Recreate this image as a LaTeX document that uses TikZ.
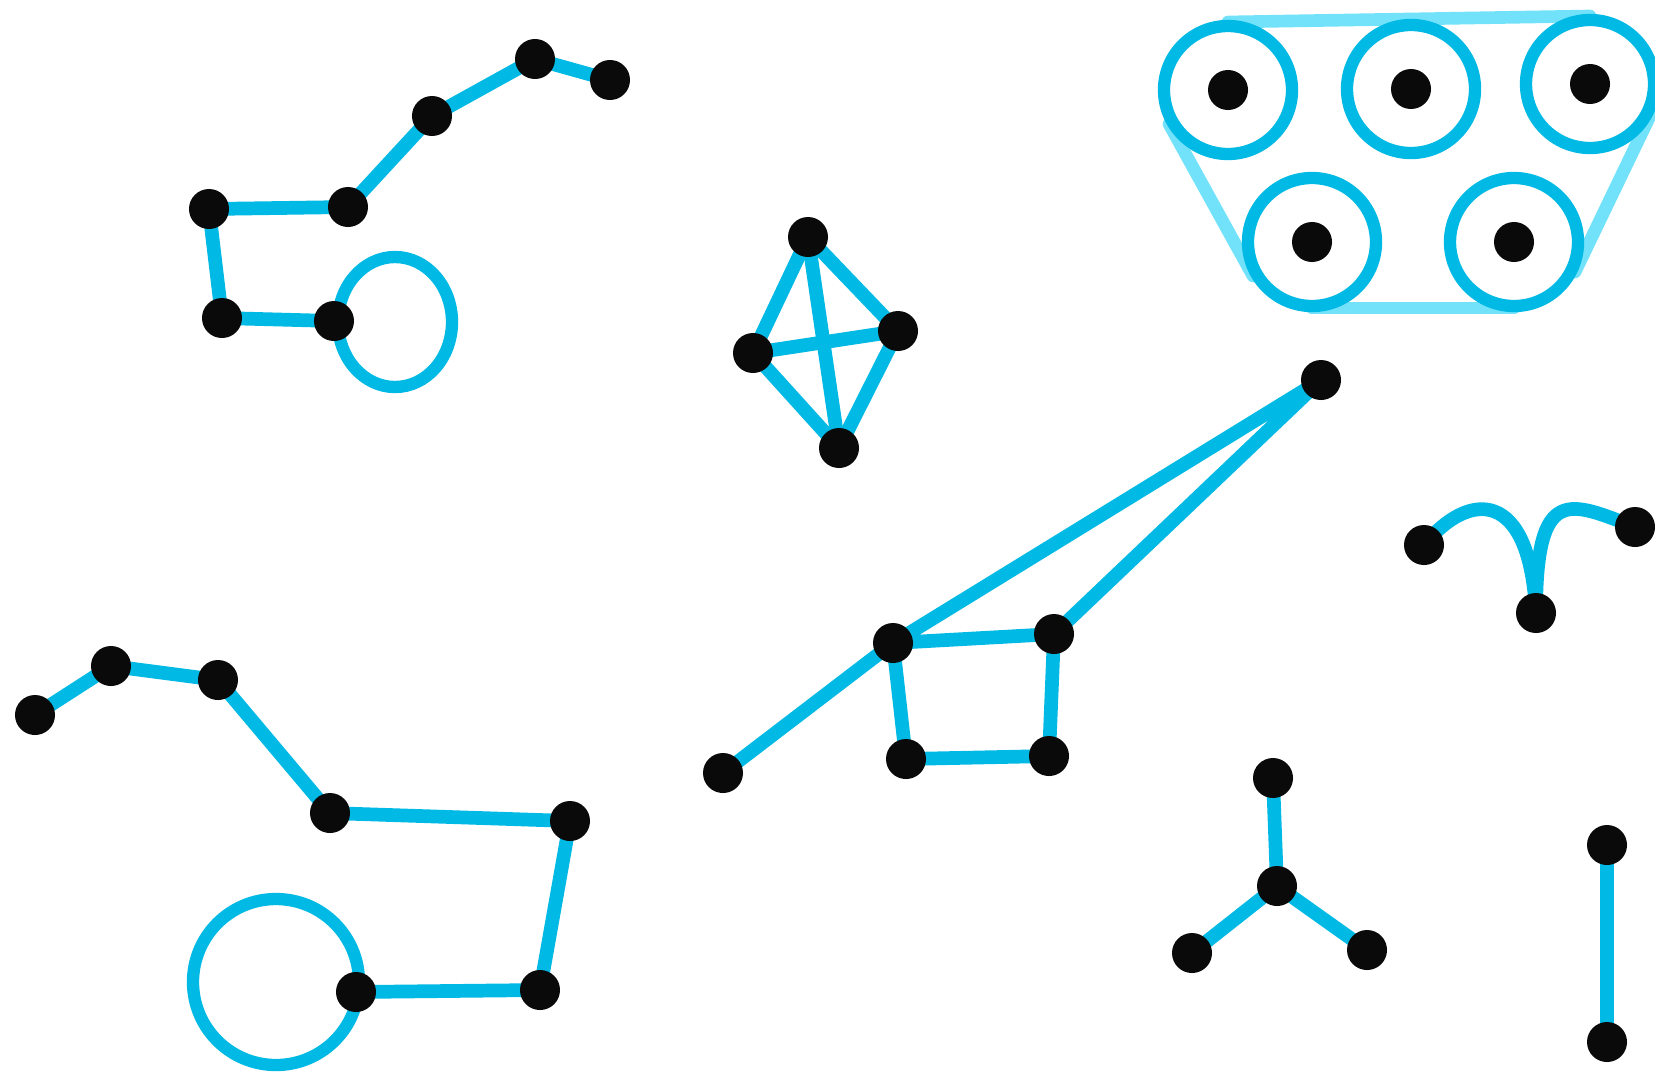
\documentclass[tikz,border=0pt]{standalone}
\usetikzlibrary{calc, backgrounds}
\definecolor{edgecyan}{HTML}{00B9E4}
\definecolor{hullcyan}{HTML}{72E2FA}
\definecolor{dotblack}{HTML}{0A0A0A}
\tikzset{
  vtx/.style={circle, fill=dotblack, inner sep=0pt, minimum size=0.40cm},
  link/.style={draw=edgecyan, line width=3.9pt, line join=round},
  ring/.style={draw=edgecyan, line width=3.5pt},
  hull/.style={draw=hullcyan, line width=3.6pt, line cap=round}
}

\begin{document}
\begin{tikzpicture}[x=0.01cm, y=-0.01cm]
\useasboundingbox (0,0) rectangle (1655,1075);

% Path with a loop (top left)
\node[vtx] (a1) at (610,80) {};
\node[vtx] (a2) at (535,59) {};
\node[vtx] (a3) at (432,116) {};
\node[vtx] (a4) at (348,207) {};
\node[vtx] (a5) at (209,209) {};
\node[vtx] (a6) at (222,318) {};
\node[vtx] (a7) at (334,321) {};

% Complete graph on four vertices
\node[vtx] (b1) at (808,237) {};
\node[vtx] (b2) at (753,353) {};
\node[vtx] (b3) at (898,331) {};
\node[vtx] (b4) at (839,448) {};

% Five vertices with loops inside a hull (top right)
\node[vtx] (h1) at (1228,90) {};
\node[vtx] (h2) at (1411,89) {};
\node[vtx] (h3) at (1590,84) {};
\node[vtx] (h4) at (1312,242) {};
\node[vtx] (h5) at (1514,242) {};
\coordinate (hA) at (1228,22);
\coordinate (hB) at (1590,16);
\coordinate (hC) at (1651,114);
\coordinate (hD) at (1575,272);
\coordinate (hE) at (1514,308);
\coordinate (hF) at (1312,308);
\coordinate (hG) at (1253,276);
\coordinate (hH) at (1169,124);

% Square with a tail and a far vertex (middle)
\node[vtx] (d1) at (1321,380) {};
\node[vtx] (d2) at (893,643) {};
\node[vtx] (d3) at (1054,634) {};
\node[vtx] (d4) at (1049,756) {};
\node[vtx] (d5) at (906,759) {};
\node[vtx] (d6) at (723,773) {};

% Curved path (right)
\node[vtx] (e1) at (1424,545) {};
\node[vtx] (e2) at (1635,527) {};
\node[vtx] (e3) at (1536,613) {};

% Star
\node[vtx] (f0) at (1277,886) {};
\node[vtx] (f1) at (1273,778) {};
\node[vtx] (f2) at (1192,953) {};
\node[vtx] (f3) at (1367,950) {};

% Single edge
\node[vtx] (g1) at (1607,845) {};
\node[vtx] (g2) at (1607,1042) {};

% Path with a loop (bottom left)
\node[vtx] (c1) at (35,715) {};
\node[vtx] (c2) at (111,666) {};
\node[vtx] (c3) at (218,680) {};
\node[vtx] (c4) at (330,813) {};
\node[vtx] (c5) at (570,821) {};
\node[vtx] (c6) at (540,990) {};
\node[vtx] (c7) at (356,992) {};

\begin{scope}[on background layer]
  % Top left
  \draw[link] (a1.center) -- (a2.center) -- (a3.center) -- (a4.center)
    -- (a5.center) -- (a6.center) -- (a7.center);
  \draw[ring] ($(a7.center)+(61,1)$) ellipse [x radius=57, y radius=65];
  % K4
  \foreach \u/\v in {b1/b2, b1/b3, b1/b4, b2/b3, b2/b4, b3/b4}
    \draw[link] (\u.center) -- (\v.center);
  % Hull and loops
  \draw[hull] (hA) -- (hB);
  \draw[hull] (hC) -- (hD);
  \draw[hull] (hE) -- (hF);
  \draw[hull] (hG) -- (hH);
  \foreach \h in {h1, h2, h3, h4, h5}
    \draw[ring] (\h.center) circle [radius=64];
  % Middle
  \draw[link] (d6.center) -- (d2.center) -- (d1.center) -- (d3.center) -- (d2.center);
  \draw[link] (d3.center) -- (d4.center) -- (d5.center) -- (d2.center);
  % Curved path
  \draw[link] (e1.center) .. controls +(45,-55) and +(-6,-125) .. (e3.center);
  \draw[link] (e3.center) .. controls +(0,-130) and +(-65,-25) .. (e2.center);
  % Star and single edge
  \foreach \v in {f1, f2, f3}
    \draw[link] (f0.center) -- (\v.center);
  \draw[link] (g1.center) -- (g2.center);
  % Bottom left
  \draw[link] (c1.center) -- (c2.center) -- (c3.center) -- (c4.center)
    -- (c5.center) -- (c6.center) -- (c7.center);
  \draw[ring] ($(c7.center)+(-80,-10)$) circle [radius=83];
\end{scope}

\end{tikzpicture}
\end{document}
